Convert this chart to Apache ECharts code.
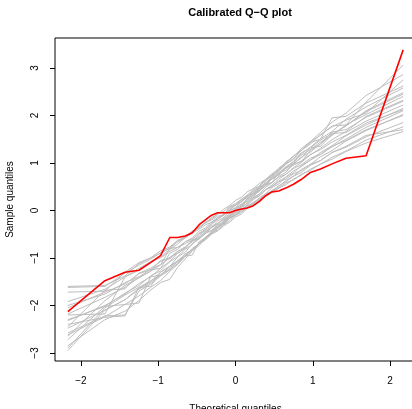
<!DOCTYPE html>
<html>
<head>
<meta charset="utf-8">
<style>
  html, body { margin: 0; padding: 0; background: #fff; }
  #chart { width: 412px; height: 409px; }
</style>
<script src="https://cdn.jsdelivr.net/npm/echarts@6/dist/echarts.min.js"></script>
</head>
<body>
<div id="chart"></div>
<script>
// Theoretical normal quantiles for n = 33
const theoretical = [-2.17,-1.69,-1.43,-1.25,-1.10,-0.97,-0.85,-0.75,-0.65,-0.56,-0.47,-0.39,-0.31,-0.23,-0.15,-0.08,0,0.08,0.15,0.23,0.31,0.39,0.47,0.56,0.65,0.75,0.85,0.97,1.10,1.25,1.43,1.69,2.17];

// Observed sample quantiles (red)
const observed = [-2.13,-1.48,-1.30,-1.26,-1.10,-0.95,-0.57,-0.57,-0.54,-0.47,-0.30,-0.20,-0.10,-0.05,-0.05,-0.05,0.00,0.03,0.05,0.10,0.19,0.31,0.39,0.41,0.47,0.55,0.65,0.80,0.87,0.98,1.10,1.15,3.38];

// Simulated reference samples (grey)
const sim01 = [-2.85,-2.30,-2.12,-1.90,-1.68,-1.52,-1.45,-1.20,-1.02,-0.85,-0.74,-0.58,-0.47,-0.38,-0.22,-0.12,0.02,0.10,0.25,0.33,0.40,0.62,0.73,0.84,1.02,1.13,1.30,1.45,1.64,1.86,2.05,2.42,2.86];
const sim02 = [-1.60,-1.58,-1.38,-1.12,-1.00,-0.90,-0.80,-0.66,-0.58,-0.47,-0.40,-0.30,-0.25,-0.15,-0.10,0.00,0.05,0.14,0.18,0.28,0.33,0.44,0.50,0.60,0.66,0.77,0.84,0.97,1.05,1.22,1.33,1.55,1.85];
const sim03 = [-2.58,-2.22,-2.20,-1.70,-1.55,-1.38,-1.25,-1.08,-0.96,-0.80,-0.70,-0.56,-0.47,-0.35,-0.27,-0.14,-0.06,0.06,0.15,0.27,0.35,0.49,0.58,0.72,0.80,0.98,1.02,1.26,1.40,1.60,1.78,2.10,2.48];
const sim04 = [-2.05,-1.72,-1.55,-1.33,-1.25,-1.22,-0.90,-0.82,-0.66,-0.58,-0.44,-0.37,-0.24,-0.18,-0.06,0.00,0.12,0.18,0.30,0.36,0.48,0.55,0.68,0.75,0.88,0.97,1.12,1.23,1.40,1.65,1.70,1.96,2.30];
const sim05 = [-2.00,-1.76,-1.52,-1.40,-1.24,-1.14,-1.00,-0.90,-0.80,-0.62,-0.60,-0.48,-0.42,-0.30,-0.25,-0.15,-0.09,0.02,0.07,0.17,0.23,0.35,0.40,0.52,0.60,0.72,0.80,0.95,1.05,1.22,1.35,1.58,1.70];
const sim06 = [-2.95,-2.10,-1.88,-1.64,-1.50,-1.30,-1.18,-0.98,-0.88,-0.70,-0.60,-0.45,-0.36,-0.22,-0.15,-0.02,0.06,0.20,0.28,0.42,0.50,0.64,0.73,0.88,0.98,1.15,1.26,1.45,1.58,1.78,1.80,2.28,3.06];
const sim07 = [-1.72,-1.70,-1.30,-1.10,-1.00,-0.85,-0.77,-0.63,-0.55,-0.44,-0.37,-0.26,-0.20,-0.12,-0.10,0.06,0.12,0.22,0.26,0.36,0.42,0.52,0.59,0.70,0.76,0.88,0.96,1.10,1.18,1.35,1.47,1.70,2.00];
const sim08 = [-2.40,-2.25,-2.22,-1.62,-1.48,-1.36,-1.18,-1.08,-0.92,-0.83,-0.70,-0.62,-0.48,-0.41,-0.30,-0.22,-0.10,-0.04,0.08,0.15,0.27,0.35,0.48,0.56,0.70,0.79,0.94,1.06,1.22,1.36,1.57,1.80,2.15];
const sim09 = [-2.30,-2.02,-1.74,-1.58,-1.38,-1.27,-1.08,-0.97,-0.82,-0.72,-0.58,-0.49,-0.36,-0.28,-0.16,-0.08,0.04,0.12,0.24,0.32,0.44,0.53,0.66,0.75,0.89,0.99,1.10,1.32,1.35,1.60,1.78,2.08,2.45];
const sim10 = [-2.65,-1.90,-1.58,-1.42,-1.28,-1.05,-1.02,-0.87,-0.77,-0.64,-0.56,-0.45,-0.37,-0.27,-0.20,-0.10,-0.03,0.08,0.14,0.25,0.31,0.43,0.50,0.62,0.70,0.83,0.92,1.06,1.18,1.34,1.50,1.75,2.10];
const sim11 = [-2.72,-2.02,-1.98,-1.80,-1.62,-1.48,-1.28,-1.14,-0.97,-0.85,-0.69,-0.59,-0.44,-0.35,-0.22,-0.12,0.01,0.10,0.24,0.33,0.46,0.57,0.71,0.82,0.97,1.09,1.26,1.40,1.60,1.76,1.90,2.05,2.75];
const sim12 = [-1.62,-1.60,-1.32,-1.15,-1.03,-0.89,-0.79,-0.65,-0.56,-0.44,-0.36,-0.25,-0.18,-0.08,-0.02,0.08,0.14,0.24,0.30,0.40,0.46,0.56,0.58,0.80,0.84,0.95,1.04,1.18,1.28,1.44,1.58,1.84,2.12];
const sim13 = [-2.18,-1.83,-1.62,-1.41,-1.28,-1.15,-0.80,-0.78,-0.70,-0.62,-0.48,-0.40,-0.27,-0.19,-0.08,0.00,0.11,0.18,0.30,0.37,0.49,0.57,0.70,0.78,0.92,1.01,1.16,1.28,1.44,1.58,1.80,2.02,2.40];
const sim14 = [-2.20,-2.18,-1.40,-1.22,-1.08,-1.00,-0.86,-0.78,-0.66,-0.60,-0.49,-0.43,-0.33,-0.28,-0.18,-0.13,-0.04,0.01,0.10,0.16,0.25,0.31,0.41,0.47,0.58,0.64,0.76,0.84,0.98,1.08,1.24,1.42,1.66];
const sim15 = [-2.32,-2.00,-1.76,-1.54,-1.40,-1.22,-1.07,-0.91,-0.79,-0.64,-0.53,-0.40,-0.30,-0.18,-0.10,0.03,0.11,0.23,0.32,0.44,0.52,0.66,0.75,0.89,1.00,1.14,1.26,1.43,1.50,1.95,1.98,2.26,2.62];
const sim16 = [-2.90,-2.05,-1.78,-1.62,-1.60,-1.30,-1.17,-1.06,-0.92,-0.83,-0.70,-0.62,-0.50,-0.43,-0.32,-0.25,-0.14,-0.07,0.04,0.11,0.22,0.30,0.42,0.50,0.63,0.72,0.86,0.97,1.13,1.26,1.46,1.68,2.02];
const sim17 = [-2.48,-2.10,-1.88,-1.66,-1.52,-1.36,-1.22,-1.06,-0.96,-0.94,-0.66,-0.58,-0.49,-0.37,-0.29,-0.17,-0.09,0.03,0.11,0.23,0.31,0.44,0.53,0.66,0.76,0.90,1.01,1.17,1.31,1.49,1.66,1.98,2.32];
const sim18 = [-2.45,-1.68,-1.65,-1.32,-1.22,-1.08,-0.99,-0.86,-0.77,-0.66,-0.59,-0.48,-0.42,-0.32,-0.26,-0.17,-0.11,-0.01,0.04,0.14,0.20,0.30,0.37,0.47,0.54,0.66,0.74,0.87,0.97,1.12,1.25,1.48,1.76];
const sim19 = [-2.62,-2.24,-1.98,-1.95,-1.40,-1.36,-1.25,-1.12,-0.95,-0.83,-0.68,-0.58,-0.44,-0.35,-0.23,-0.14,-0.01,0.08,0.21,0.29,0.42,0.52,0.66,0.76,0.91,1.03,1.19,1.33,1.51,1.66,1.92,2.18,2.58];
const sim20 = [-1.92,-1.66,-1.40,-1.26,-1.08,-0.98,-0.82,-0.71,-0.57,-0.48,-0.35,-0.27,-0.15,-0.08,0.03,0.10,0.21,0.28,0.39,0.46,0.57,0.65,0.77,0.85,0.98,1.07,1.21,1.32,1.48,1.62,1.64,1.88,2.22];

const simulated = [sim01,sim02,sim03,sim04,sim05,sim06,sim07,sim08,sim09,sim10,
                   sim11,sim12,sim13,sim14,sim15,sim16,sim17,sim18,sim19,sim20];

// Tick labels
const xTicks = [-2, -1, 0, 1, 2];
const yTicks = [-3, -2, -1, 0, 1, 2, 3];

const FONT = '"Liberation Sans", Arial, Helvetica, sans-serif';
const minus = v => String(v).replace('-', '\u2212');
const pairs = ys => theoretical.map((x, i) => [x, ys[i]]);

const series = simulated.map(ys => ({
  type: 'line',
  data: pairs(ys),
  symbol: 'none',
  silent: true,
  lineStyle: { color: '#BEBEBE', width: 1 },
  z: 2
}));
series.push({
  type: 'line',
  data: pairs(observed),
  symbol: 'none',
  silent: true,
  lineStyle: { color: '#FF0000', width: 1.6 },
  z: 3
});

const chart = echarts.init(document.getElementById('chart'), null, { renderer: 'canvas' });
chart.setOption({
  animation: false,
  backgroundColor: '#ffffff',
  title: {
    text: 'Calibrated Q\u2212Q plot',
    left: 235,
    top: 2,
    textAlign: 'center',
    textStyle: { fontFamily: FONT, fontSize: 11, fontWeight: 'bold', color: '#000' }
  },
  grid: {
    left: 55, top: 38, width: 361, height: 323,
    outerBoundsMode: 'none',
    containLabel: false,
    show: true, borderColor: '#000', borderWidth: 1, backgroundColor: 'transparent'
  },
  xAxis: {
    type: 'value',
    min: -2.336, max: 2.336,
    name: 'Theoretical quantiles',
    nameLocation: 'middle',
    nameGap: 43,
    nameTextStyle: { fontFamily: FONT, fontSize: 10, color: '#000' },
    axisLine: { show: false, onZero: false },
    splitLine: { show: false },
    axisTick: { show: true, customValues: xTicks, length: 5, lineStyle: { color: '#000' } },
    axisLabel: { customValues: xTicks, formatter: minus, margin: 15,
                 fontFamily: FONT, fontSize: 10, color: '#000' }
  },
  yAxis: {
    type: 'value',
    min: -3.17, max: 3.63,
    name: 'Sample quantiles',
    nameLocation: 'middle',
    nameGap: 40,
    nameRotate: 90,
    nameTextStyle: { fontFamily: FONT, fontSize: 10, color: '#000' },
    axisLine: { show: false, onZero: false },
    splitLine: { show: false },
    axisTick: { show: true, customValues: yTicks, length: 5, lineStyle: { color: '#000' } },
    axisLabel: { customValues: yTicks, formatter: minus, rotate: 90, margin: 15,
                 fontFamily: FONT, fontSize: 10, color: '#000' }
  },
  series: series
});
</script>
</body>
</html>
